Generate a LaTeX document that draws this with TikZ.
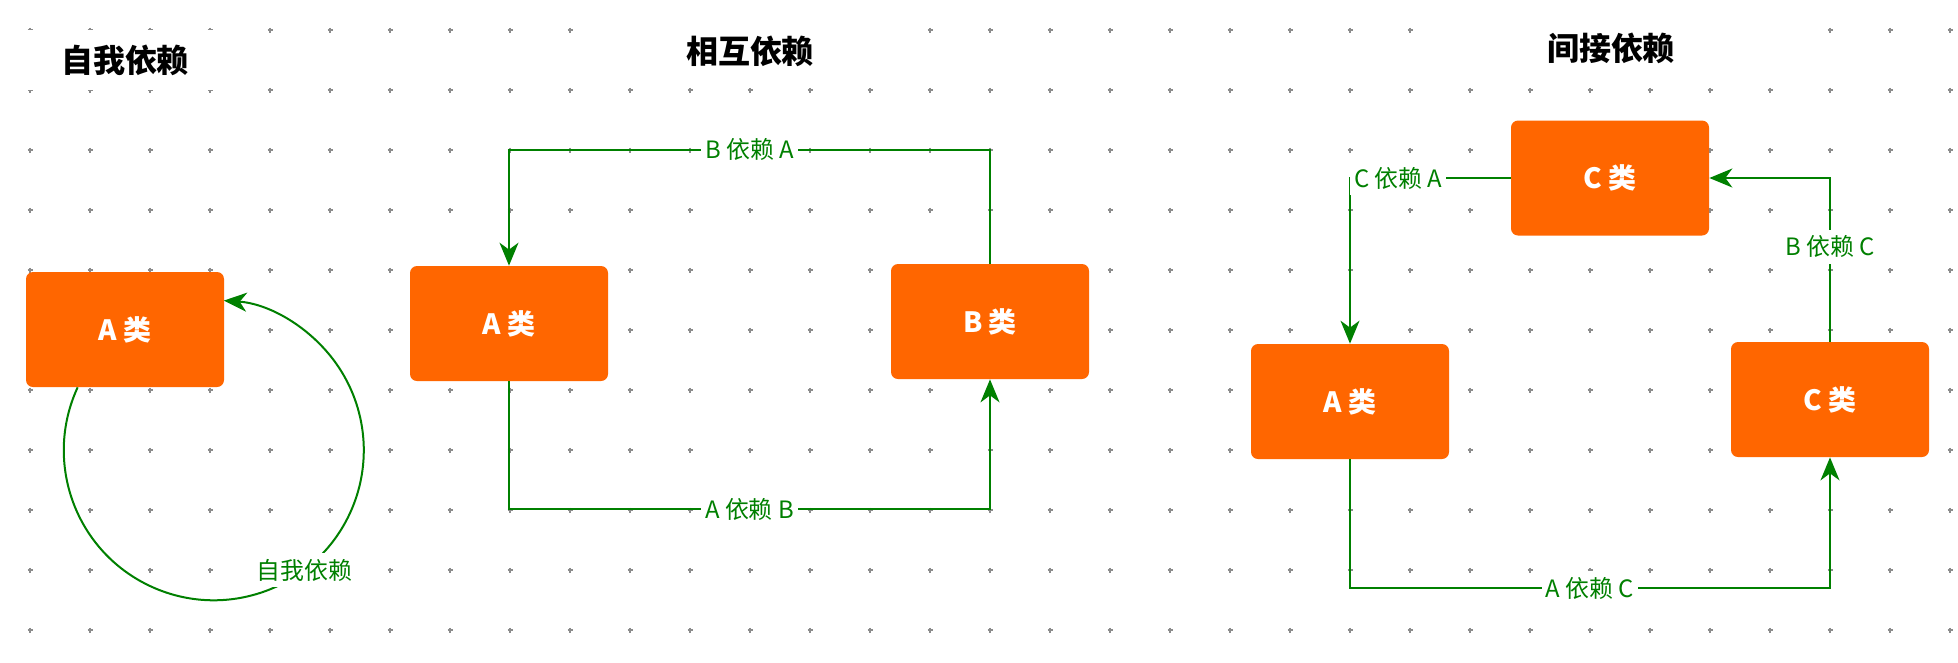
\documentclass[tikz,border=0pt]{standalone}
\usepackage{fontspec}
\setmainfont{Noto Sans CJK SC}
\usetikzlibrary{arrows.meta, calc}
\usepackage{xcolor}
\definecolor{meularanja}{RGB}{255, 102, 0}
\definecolor{meuverde}{RGB}{0, 128, 0}
\definecolor{meucinza}{RGB}{140, 140, 140}

\begin{document}
\begin{tikzpicture}[
    every node/.style={font=\normalsize},
    classe/.style={
        rectangle,
        rounded corners=0.14cm,
        fill=meularanja,
        text=white,
        font=\fontsize{15.9}{18}\selectfont\bfseries,
        minimum width=3.96cm,
        minimum height=2.3cm,
        inner sep=0pt
    },
    titulo/.style={
        fill=white,
        font=\fontsize{18.2}{22}\selectfont\bfseries,
        minimum width=5.2cm,
        minimum height=1.2cm
    },
    dep/.style={
        draw=meuverde,
        line width=0.04cm,
        -{Stealth[length=0.46cm, width=0.38cm, inset=0.14cm]}
    },
    rotulo/.style={
        fill=white,
        text=meuverde,
        font=\fontsize{13.6}{16}\selectfont,
        inner xsep=0.08cm,
        inner ysep=0.12cm
    }
]

\useasboundingbox (0,0) rectangle (39.16,-13.24);
\fill[white] (0,0) rectangle (39.16,-13.24);

% ------------------------------------------------
% Grade de fundo
% ------------------------------------------------

\foreach \i in {0,...,32}
    \foreach \j in {0,...,10}
        \draw[meucinza, line width=0.025cm]
            ({0.55+1.2*\i},{-0.6-1.2*\j}) -- ++(0.1,0)
            ({0.6+1.2*\i},{-0.55-1.2*\j}) -- ++(0,-0.1);

% ------------------------------------------------
% Autodependencia
% ------------------------------------------------

\node[titulo] (t1) at (2.5,-1.2) {自我依赖};

\node[classe] (sa) at (2.5,-6.59) {A 类};

\draw[dep] ($(sa.south west)+(1.04,0)$)
    arc[start angle=155.2, end angle=446.2, radius=3];

\node[rotulo] (lself) at (6.09,-11.40) {自我依赖};

% ------------------------------------------------
% Dependencia mutua
% ------------------------------------------------

\node[titulo, minimum width=7cm] (t2) at (15.0,-1.02) {相互依赖};

\node[classe] (ma) at (10.18,-6.47) {A 类};

\node[classe] (mb) at (19.8,-6.43) {B 类};

\draw[dep] (mb.north) -- ++(0,2.28)
    -| node[rotulo, pos=0.25] (lba) {B 依赖 A} (ma.north);

\draw[dep] (ma.south) -- ++(0,-2.56)
    -| node[rotulo, pos=0.25] (lab) {A 依赖 B} (mb.south);

% ------------------------------------------------
% Dependencia indireta
% ------------------------------------------------

\node[titulo, minimum width=7cm] (t3) at (32.22,-0.96) {间接依赖};

\node[classe] (ic) at (32.2,-3.56) {C 类};

\node[classe] (ia) at (27.0,-8.03) {A 类};

\node[classe] (ic2) at (36.6,-7.99) {C 类};

\draw[dep] (ic.west)
    -| node[rotulo, pos=0.35] (lca) {C 依赖 A} (ia.north);

\draw[dep] (ic2.north)
    |- node[rotulo, pos=0.29] (lbc) {B 依赖 C} (ic.east);

\draw[dep] (ia.south) -- ++(0,-2.58)
    -| node[rotulo, pos=0.25] (lac) {A 依赖 C} (ic2.south);

\end{tikzpicture}
\end{document}
